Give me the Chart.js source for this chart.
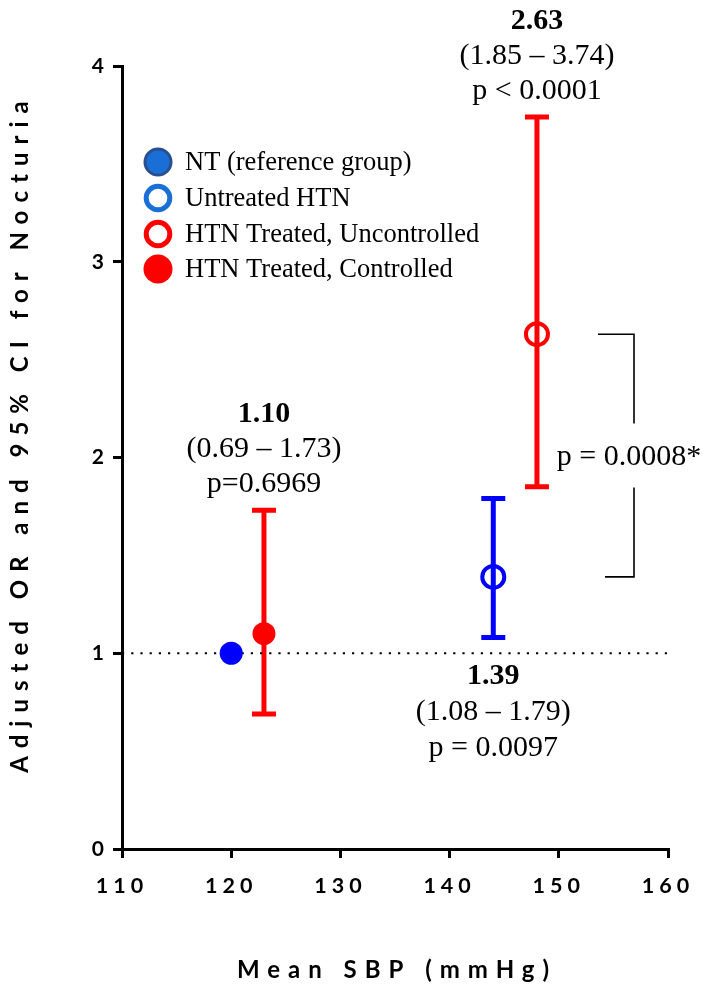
<!DOCTYPE html>
<html>
<head>
<meta charset="utf-8">
<script src="https://cdn.jsdelivr.net/npm/chart.js@4.4.1/dist/chart.umd.min.js"></script>
<style>
    html, body { margin: 0; padding: 0; background: #ffffff; }
    #wrap { width: 709px; height: 988px; }
</style>
</head>
<body>
<div id="wrap"><canvas id="chart" width="709" height="988"></canvas></div>
<script>
// data
const groups = ['NT (reference group)', 'Untreated HTN', 'HTN Treated, Uncontrolled', 'HTN Treated, Controlled'];
const meanSBP = [120, 144, 148, 123];
const adjustedOR = [1.00, 1.39, 2.63, 1.10];
const ciLower = [null, 1.08, 1.85, 0.69];
const ciUpper = [null, 1.79, 3.74, 1.73];
const pLabels = [null, 'p = 0.0097', 'p < 0.0001', 'p=0.6969'];
const xTicks = [110, 120, 130, 140, 150, 160];
const yTicks = [0, 1, 2, 3, 4];
const referenceOR = 1;
const comparisonP = 'p = 0.0008*';
const comparedGroups = [2, 1]; // uncontrolled vs untreated
const xTitle = 'Mean SBP (mmHg)';
const yTitle = 'Adjusted OR and 95% CI for Nocturia';

const markerColors = ['#0000ff', '#0000ff', '#ff0000', '#ff0000'];
const markerHollow = [false, true, true, false];
const legendColors = ['#1a6fd6', '#1a6fd6', '#ff0000', '#ff0000'];
const serif = '"Liberation Serif", "Times New Roman", serif';
const sans = 'Lato, "Open Sans", sans-serif';

const datasets = groups.map(function(g, i) {
    return {
        label: g,
        data: [{ x: meanSBP[i], y: adjustedOR[i] }],
        pointRadius: markerHollow[i] ? 11 : 11.5,
        pointBorderWidth: markerHollow[i] ? 4 : 0,
        pointBackgroundColor: markerHollow[i] ? 'rgba(0,0,0,0)' : markerColors[i],
        pointBorderColor: markerColors[i],
        showLine: false,
        order: 1
    };
});
datasets.push({
    label: 'reference',
    data: [{ x: xTicks[0], y: referenceOR }, { x: xTicks[xTicks.length - 1], y: referenceOR }],
    showLine: true,
    pointRadius: 0,
    borderColor: '#000000',
    borderWidth: 2.2,
    borderDash: [2.2, 7],
    order: 5
});

const spacing = {
    id: 'spacing',
    beforeDraw(chart) { chart.ctx.letterSpacing = '5px'; },
    beforeDatasetsDraw(chart) { chart.ctx.letterSpacing = '0px'; }
};

const axisTitles = {
    id: 'axisTitles',
    afterDraw(chart) {
        const ctx = chart.ctx;
        const area = chart.chartArea;
        ctx.save();
        ctx.letterSpacing = '8px';
        ctx.fillStyle = '#000000';
        ctx.font = 'bold 24px ' + sans;
        ctx.textAlign = 'center';
        ctx.textBaseline = 'middle';
        ctx.fillText(xTitle, (area.left + area.right) / 2 + 2, 970);
        ctx.translate(20, 437);
        ctx.rotate(-Math.PI / 2);
        ctx.fillText(yTitle, 4, 0);
        ctx.restore();
    }
};

const errorBars = {
    id: 'errorBars',
    beforeDatasetsDraw(chart) {
        const ctx = chart.ctx;
        const xs = chart.scales.x, ys = chart.scales.y;
        ctx.save();
        ctx.lineWidth = 5;
        for (let i = 0; i < groups.length; i++) {
            if (ciLower[i] === null) continue;
            const x = xs.getPixelForValue(meanSBP[i]);
            const lo = ys.getPixelForValue(ciLower[i]);
            const hi = ys.getPixelForValue(ciUpper[i]);
            ctx.strokeStyle = markerColors[i];
            ctx.beginPath();
            ctx.moveTo(x, lo); ctx.lineTo(x, hi);
            ctx.moveTo(x - 12, lo); ctx.lineTo(x + 12, lo);
            ctx.moveTo(x - 12, hi); ctx.lineTo(x + 12, hi);
            ctx.stroke();
        }
        ctx.restore();
    }
};

const notes = {
    id: 'notes',
    afterDatasetsDraw(chart) {
        const ctx = chart.ctx;
        const xs = chart.scales.x, ys = chart.scales.y;
        ctx.save();
        ctx.letterSpacing = '0px';
        ctx.fillStyle = '#000000';
        ctx.textAlign = 'center';
        ctx.textBaseline = 'middle';
        for (let i = 0; i < groups.length; i++) {
            if (ciLower[i] === null) continue;
            const x = xs.getPixelForValue(meanSBP[i]);
            const lines = [adjustedOR[i].toFixed(2), '(' + ciLower[i].toFixed(2) + ' \u2013 ' + ciUpper[i].toFixed(2) + ')', pLabels[i]];
            let y0, step;
            if (i === 1) {
                y0 = ys.getPixelForValue(ciLower[i]) + 39;
                step = 36;
            } else {
                y0 = ys.getPixelForValue(ciUpper[i]) - 96;
                step = 35;
            }
            lines.forEach(function(t, k) {
                ctx.font = (k === 0 ? 'bold ' : '') + '30px ' + serif;
                ctx.fillText(t, x, y0 + k * step);
            });
        }
        // bracket comparing uncontrolled vs untreated
        const yA = ys.getPixelForValue(adjustedOR[comparedGroups[0]]);
        const yB = ys.getPixelForValue(adjustedOR[comparedGroups[1]]);
        const bx = 634;
        const mid = (yA + yB) / 2;
        ctx.strokeStyle = '#000000';
        ctx.lineWidth = 1.6;
        ctx.beginPath();
        ctx.moveTo(598, yA); ctx.lineTo(bx, yA); ctx.lineTo(bx, mid - 32);
        ctx.moveTo(bx, mid + 32); ctx.lineTo(bx, yB); ctx.lineTo(605, yB);
        ctx.stroke();
        ctx.font = '30px ' + serif;
        ctx.fillText(comparisonP, 629, mid + 2);

        // legend inside the plot
        ctx.textAlign = 'left';
        ctx.font = '26.5px ' + serif;
        const ly = [162, 198, 234, 269];
        for (let i = 0; i < groups.length; i++) {
            ctx.beginPath();
            if (i === 0) {
                ctx.arc(158, ly[i], 13, 0, Math.PI * 2);
                ctx.fillStyle = legendColors[i];
                ctx.fill();
                ctx.lineWidth = 3;
                ctx.strokeStyle = '#2b4f8e';
                ctx.stroke();
            } else if (markerHollow[i]) {
                ctx.arc(158, ly[i], 11.8, 0, Math.PI * 2);
                ctx.lineWidth = 5;
                ctx.strokeStyle = legendColors[i];
                ctx.stroke();
            } else {
                ctx.arc(158, ly[i], 14.5, 0, Math.PI * 2);
                ctx.fillStyle = legendColors[i];
                ctx.fill();
            }
            ctx.fillStyle = '#000000';
            ctx.fillText(groups[i], 185, ly[i] + 1);
        }
        ctx.restore();
    }
};

new Chart(document.getElementById('chart').getContext('2d'), {
    type: 'scatter',
    data: { datasets: datasets },
    plugins: [spacing, errorBars, notes, axisTitles],
    options: {
        responsive: false,
        animation: false,
        devicePixelRatio: 1,
        layout: { padding: { top: 66, right: 41, left: 0, bottom: 0 } },
        plugins: { legend: { display: false }, tooltip: { enabled: false } },
        scales: {
            x: {
                type: 'linear',
                min: xTicks[0],
                max: xTicks[xTicks.length - 1],
                afterFit: function(scale) { scale.height = 139; },
                afterBuildTicks: function(scale) { scale.ticks = xTicks.map(function(v) { return { value: v }; }); },
                grid: { drawOnChartArea: false, drawTicks: true, tickLength: 9, color: '#000000', lineWidth: 3 },
                border: { display: true, color: '#000000', width: 3 },
                ticks: { color: '#000000', padding: 15, maxRotation: 0, font: { family: sans, size: 21.5, weight: 'bold' } }
            },
            y: {
                type: 'linear',
                min: yTicks[0],
                max: yTicks[yTicks.length - 1],
                afterFit: function(scale) { scale.width = 122; },
                afterBuildTicks: function(scale) { scale.ticks = yTicks.map(function(v) { return { value: v }; }); },
                grid: { drawOnChartArea: false, drawTicks: true, tickLength: 9, color: '#000000', lineWidth: 3 },
                border: { display: true, color: '#000000', width: 3 },
                ticks: { color: '#000000', padding: 4, font: { family: sans, size: 21, weight: 'bold' } }
            }
        }
    }
});
</script>
</body>
</html>
